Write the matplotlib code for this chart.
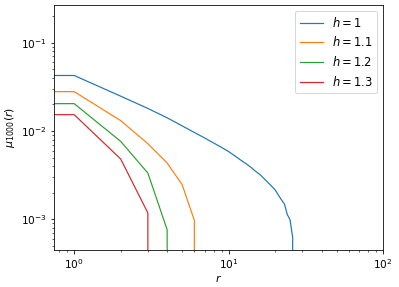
import numpy as np
import matplotlib
matplotlib.use("Agg")
import matplotlib.pyplot as plt

# mu_1000(r) for r = 0, 1, 2, ... (0 means no mass at that distance)
mu_h1 = [0.0425, 0.0425, 0.0248, 0.0180, 0.0141, 0.01143, 0.00962, 0.00833,
         0.00731, 0.00652, 0.00585, 0.00521, 0.00467, 0.00425, 0.00386,
         0.00348, 0.00320, 0.00288, 0.00261, 0.00237, 0.00216, 0.00188,
         0.00166, 0.00149, 0.00113, 0.00099, 0.00062, 0.0]
mu_h11 = [0.0279, 0.0279, 0.0131, 0.00718, 0.00434, 0.00247, 0.000973, 0.0]
mu_h12 = [0.0204, 0.0204, 0.00763, 0.00334, 0.000762, 0.0]
mu_h13 = [0.0153, 0.0153, 0.00482, 0.00118, 0.0]

series = [(r"$h=1$", mu_h1), (r"$h=1.1$", mu_h11),
          (r"$h=1.2$", mu_h12), (r"$h=1.3$", mu_h13)]

plt.rcParams["font.size"] = 11.5

fig = plt.figure(figsize=(399 / 72, 287 / 72), dpi=72)
ax = fig.add_axes([54 / 399, 1 - 250 / 287, 329 / 399, 244.7 / 287])

for label, mu in series:
    r = np.arange(len(mu))
    ax.plot(r, mu, label=label, lw=1.2)

ax.set_xscale("log")
ax.set_yscale("log")
ax.set_xlim(0.74, 100)
ax.set_ylim(4.49e-4, 0.265)
ax.tick_params(labelsize=10.5)
ax.set_xlabel(r"$r$", fontsize=11)
ax.set_ylabel(r"$\mu_{1000}(r)$", fontsize=11)
ax.xaxis.set_label_coords(0.5, -0.095)
ax.yaxis.set_label_coords(-0.112, 0.5)
ax.legend(loc="upper right")

fig.savefig("out.png", dpi=72)
